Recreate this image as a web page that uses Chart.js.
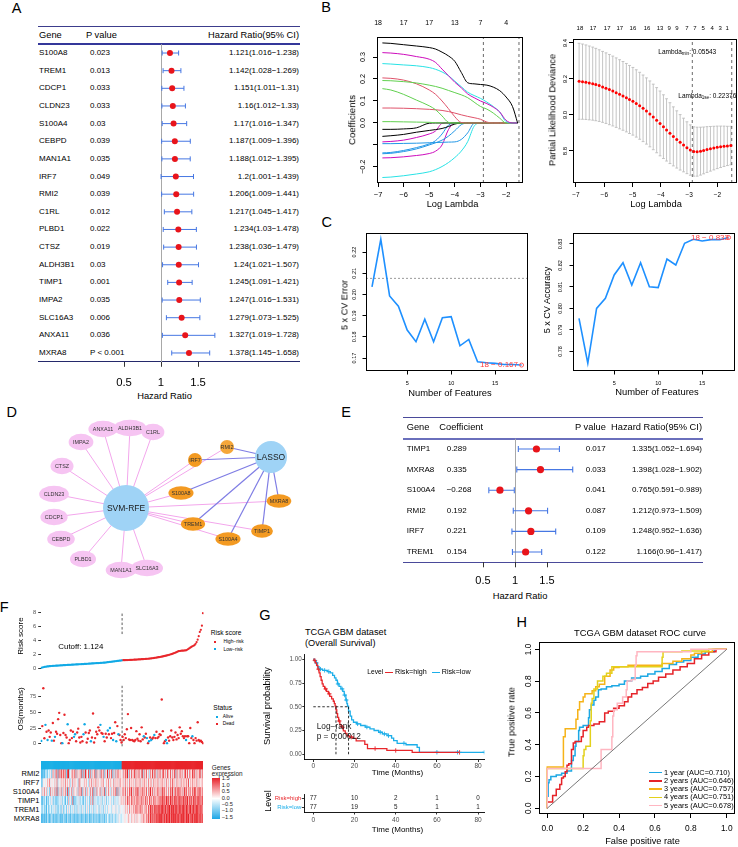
<!DOCTYPE html>
<html><head><meta charset="utf-8">
<script src="https://cdn.jsdelivr.net/npm/chart.js@4.4.1/dist/chart.umd.min.js"></script>
<style>
html,body{margin:0;padding:0;background:#fff;}
#root{position:relative;width:738px;height:847px;overflow:hidden;background:#fff;}
#root canvas{position:absolute;}
.t{position:absolute;white-space:nowrap;line-height:1;font-family:'Liberation Sans',Arial,Helvetica,sans-serif;color:#000;}
.t sub{font-size:70%;vertical-align:-0.25em;line-height:0;}
.r{position:absolute;}
</style></head><body><div id="root"></div>
<script>
// ================= DATA =================
// Panel A: univariate Cox
const genesA = ['S100A8','TREM1','CDCP1','CLDN23','S100A4','CEBPD','MAN1A1','IRF7','RMI2','C1RL','PLBD1','CTSZ','ALDH3B1','TIMP1','IMPA2','SLC16A3','ANXA11','MXRA8'];
const pA = ['0.023','0.013','0.033','0.033','0.03','0.039','0.035','0.049','0.039','0.012','0.022','0.019','0.03','0.001','0.035','0.006','0.036','P < 0.001'];
const hrA = [1.121,1.142,1.151,1.16,1.17,1.187,1.188,1.2,1.206,1.217,1.234,1.238,1.24,1.245,1.247,1.279,1.327,1.378];
const loA = [1.016,1.028,1.011,1.012,1.016,1.009,1.012,1.001,1.009,1.045,1.03,1.036,1.021,1.091,1.016,1.073,1.019,1.145];
const hiA = [1.238,1.269,1.31,1.33,1.347,1.396,1.395,1.439,1.441,1.417,1.478,1.479,1.507,1.421,1.531,1.525,1.728,1.658];
const hrTicks = [0.5,1,1.5];

// Panel B left: LASSO coefficient paths
const lamGridB = [-6.83,-6.5,-6,-5.5,-5,-4.75,-4.5,-4.25,-4,-3.75,-3.5,-3.25,-3,-2.75,-2.5,-2.25,-2,-1.75,-1.55];
const cBlack1 = [0.364,0.362,0.356,0.350,0.343,0.336,0.322,0.305,0.280,0.230,0.183,0.178,0.175,0.172,0.163,0.147,0.118,0.075,0];
const cMag1   = [0.320,0.318,0.312,0.302,0.290,0.275,0.245,0.215,0.185,0.160,0.132,0.115,0.100,0.088,0.072,0.050,0.012,0,0];
const cCyan1  = [0.270,0.268,0.264,0.260,0.252,0.244,0.232,0.215,0.190,0.165,0.140,0.125,0.112,0.095,0.075,0.050,0.006,0,0];
const cGreen1 = [0.193,0.192,0.188,0.182,0.172,0.166,0.158,0.148,0.138,0.128,0.115,0.095,0.075,0.063,0.045,0.022,0,0,0];
const cRed1   = [0.205,0.203,0.195,0.178,0.150,0.130,0.100,0.065,0.028,0.002,0,0,0,0,0,0,0,0,0];
const cGreen2 = [0.156,0.150,0.130,0.104,0.078,0.060,0.032,0.003,0,0,0,0,0,0,0,0,0,0,0];
const cRed2   = [0.068,0.068,0.067,0.065,0.062,0.060,0.057,0.052,0.045,0.037,0.030,0.024,0.017,0.004,0,0,0,0,0];
const cGreen3 = [0.006,0.006,0.005,0.004,0.003,0.001,0,0,0,0,0,0,0,0,0,0,0,0,0];
const cBlack2 = [-0.029,-0.029,-0.027,-0.022,-0.001,0,0,0,0,0,0,0,0,0,0,0,0,0,0];
const cBlack3 = [-0.061,-0.058,-0.052,-0.042,-0.034,-0.030,-0.025,-0.016,-0.005,0,0,0,0,0,0,0,0,0,0];
const cMag2   = [-0.086,-0.084,-0.078,-0.066,-0.050,-0.036,-0.002,0,0,0,0,0,0,0,0,0,0,0,0];
const cBlue1  = [-0.094,-0.094,-0.093,-0.092,-0.090,-0.089,-0.088,-0.087,-0.086,-0.075,-0.045,-0.002,0,0,0,0,0,0,0];
const cBlue2  = [-0.136,-0.134,-0.125,-0.112,-0.095,-0.080,-0.050,-0.010,0,0,0,0,0,0,0,0,0,0,0];
const cBlue3  = [-0.140,-0.138,-0.130,-0.118,-0.100,-0.090,-0.078,-0.060,-0.035,-0.008,0,0,0,0,0,0,0,0,0];
const cMag3   = [-0.159,-0.158,-0.154,-0.148,-0.139,-0.128,-0.100,-0.030,0,0,0,0,0,0,0,0,0,0,0];
const cCyan2  = [-0.248,-0.246,-0.240,-0.232,-0.222,-0.212,-0.198,-0.180,-0.157,-0.128,-0.085,-0.015,0,0,0,0,0,0,0];
const topPosB1 = [-7,-6,-5,-4,-3,-2];
const dfB1 = [18,17,17,13,7,4];
const lamMinLog = -2.89, lam1seLog = -1.497;

// Panel B right: CV partial likelihood deviance
const lambdaB2 = [-6.89,-6.77,-6.65,-6.53,-6.41,-6.30,-6.18,-6.06,-5.94,-5.82,-5.70,-5.58,-5.46,-5.34,-5.22,-5.11,-4.99,-4.87,-4.75,-4.63,-4.51,-4.39,-4.27,-4.15,-4.03,-3.91,-3.80,-3.68,-3.56,-3.44,-3.32,-3.20,-3.08,-2.96,-2.84,-2.72,-2.60,-2.49,-2.37,-2.25,-2.13,-2.01,-1.89,-1.77,-1.65,-1.53];
const cvmB2 = [9.187,9.185,9.182,9.178,9.174,9.169,9.163,9.156,9.149,9.141,9.133,9.124,9.115,9.106,9.096,9.086,9.076,9.064,9.051,9.037,9.022,9.006,8.989,8.971,8.953,8.935,8.917,8.899,8.881,8.864,8.848,8.833,8.818,8.805,8.797,8.796,8.799,8.803,8.808,8.812,8.816,8.820,8.823,8.826,8.828,8.830];
const cvsdB2 = [0.211,0.209,0.207,0.205,0.203,0.201,0.199,0.197,0.196,0.195,0.194,0.193,0.192,0.191,0.190,0.189,0.188,0.187,0.186,0.185,0.184,0.183,0.182,0.181,0.180,0.177,0.173,0.169,0.164,0.159,0.154,0.149,0.144,0.140,0.137,0.136,0.133,0.130,0.127,0.124,0.121,0.118,0.115,0.112,0.109,0.107];
const topPosB2 = [-6.86,-6.40,-5.90,-5.45,-4.99,-4.49,-4.03,-3.71,-3.43,-3.08,-2.80,-2.51,-2.19,-1.91,-1.66];
const dfB2 = [18,17,17,17,16,16,13,9,9,7,7,5,4,3,1];

// Panel C: SVM-RFE
const featN = [1,2,3,4,5,6,7,8,9,10,11,12,13,14,15,16,17,18];
const cvErr = [0.2036,0.2260,0.1993,0.1945,0.1832,0.1777,0.1883,0.1777,0.1890,0.1895,0.1758,0.1788,0.1683,0.1678,0.1675,0.1670,0.1670,0.1667];
const cvAcc = [0.7954,0.7745,0.8000,0.8047,0.8156,0.8213,0.8109,0.8213,0.8101,0.8097,0.8230,0.8202,0.8303,0.8322,0.8314,0.8320,0.8320,0.8330];
const cvErrRef = 0.2076;

// Panel D: network (layout coordinates)
const nodeNames = ['SVM-RFE','LASSO','ANXA11','ALDH3B1','C1RL','IMPA2','CTSZ','CLDN23','CDCP1','CEBPD','PLBD1','MAN1A1','SLC16A3','RMI2','IRF7','S100A8','MXRA8','TREM1','TIMP1','S100A4'];
const nodeX = [126,271,103,130,153,81,62,54,54,61,83,121,147,227,195,181,279,193,262,228];
const nodeY = [508,457,429,428,432,442,466,494,517,539,559,570,568,447,460,493,501,524,531,539];
const nodeGroup = ['hub','hub','svm','svm','svm','svm','svm','svm','svm','svm','svm','svm','svm','both','both','both','both','both','both','both'];
const svmTargets = ['ANXA11','ALDH3B1','C1RL','IMPA2','CTSZ','CLDN23','CDCP1','CEBPD','PLBD1','MAN1A1','SLC16A3','RMI2','IRF7','S100A8','MXRA8','TREM1','TIMP1','S100A4'];
const lassoTargets = ['RMI2','IRF7','S100A8','MXRA8','TREM1','TIMP1','S100A4'];

// Panel E: multivariate Cox
const genesE = ['TIMP1','MXRA8','S100A4','RMI2','IRF7','TREM1'];
const coefE = [0.289,0.335,-0.268,0.192,0.221,0.154];
const pE = ['0.017','0.033','0.041','0.087','0.109','0.122'];
const hrE = [1.335,1.398,0.765,1.212,1.248,1.166];
const loE = [1.052,1.028,0.591,0.973,0.952,0.96];
const hiE = [1.694,1.902,0.989,1.509,1.636,1.417];

// Panel F: risk score, survival status, heatmap
const riskCutoff = 1.124;
const riskLow = [0.05,0.10,0.14,0.18,0.21,0.23,0.25,0.27,0.29,0.30,0.32,0.33,0.34,0.35,0.36,0.37,0.38,0.39,0.40,0.41,0.42,0.43,0.44,0.45,0.46,0.47,0.48,0.48,0.49,0.50,0.51,0.52,0.53,0.54,0.55,0.56,0.57,0.57,0.58,0.59,0.60,0.61,0.62,0.63,0.64,0.65,0.66,0.67,0.68,0.69,0.70,0.71,0.72,0.73,0.74,0.75,0.76,0.77,0.78,0.79,0.80,0.82,0.84,0.86,0.88,0.90,0.92,0.94,0.96,0.98,1.00,1.02,1.04,1.06,1.08,1.10,1.12];
const riskHigh = [1.14,1.15,1.15,1.16,1.17,1.17,1.18,1.19,1.19,1.20,1.21,1.22,1.23,1.24,1.25,1.26,1.27,1.28,1.29,1.30,1.31,1.32,1.33,1.34,1.36,1.37,1.39,1.41,1.43,1.45,1.47,1.50,1.53,1.55,1.58,1.60,1.63,1.66,1.69,1.72,1.76,1.80,1.84,1.88,1.92,1.97,2.02,2.07,2.12,2.18,2.24,2.30,2.38,2.44,2.47,2.49,2.51,2.52,2.53,2.55,2.56,2.65,2.75,2.85,2.95,3.05,3.15,3.22,3.30,3.50,3.75,4.10,4.60,5.20,5.50,6.10,7.90];
const osLow = [4.6,28,88,8.7,30,19,6,21,11,18,5,33,5,11,19,16,39,49,14,1,1,17,46,14,10,31,1,6,21,9,19,11,15,4,18,24,10,2,11,4,15,31,18,2,8,17,21,4,10,48,2,9,19,15,26,21,30,17,16,11,4,16,10,21,15,25,9,16,6,17,34,4,28,15,14,6,2];
const stLow = "ADDDADADDD"+"ADDADDDDDD"+"ADDDDADDDD"+"DAADDDDDDD"+"AADDDDDADD"+"DDDDDDADDA"+"DDDADADDAD"+"DADADDD";
const osHigh = [11,6,15,9,23,47,7,6,25,6,5,4,6,20,8,5,15,4,26,7,12,10,16,9,1,4,10,6,8,10,14,9,19,9,11,15,14,70,20,1,4,6,1,10,5,12,21,10,6,11,18,7,14,9,26,16,20,12,9,12,6,12,12,1,25,9,12,6,1,9,5,34,6,4,5,3,1];
const stHigh = "DDDDDDDDDD"+"DDDDDDDDDD"+"ADDADADADD"+"ADDDDDDDDD"+"DAADDDDDDD"+"DDDDDDDDDD"+"ADDDDDADDD"+"DDDDDDD";
const cutSegF = [4.9, 8.04];
// heatmap levels 0..9 -> -1.5..1.5 (low-risk 77 | high-risk 77)
const hmGenes = ['RMI2','IRF7','S100A4','TIMP1','TREM1','MXRA8'];
const hmRMI2 = ['11213324352','66377284958','67289346758','37465827396','48273658274','63857264937','58263748565','47586937485','69475846937','58463759486','37584695748','65847593764','85746958476','59684756947'].join('');
const hmIRF7 = ['22545465745','54647354656','47564635746','55376454656','43657465746','54657446574','65474656475','56475647565','64756574657','56475664756','57465756475','64758564756','47566575846','57565746556'].join('');
const hmS100A4 = ['36474635274','64738264736','57382647365','46375826473','65374826374','57364826475','36475827364','67584758694','75869475867','58476958475','68574968574','75869478596','85749685767','58697586957'].join('');
const hmTIMP1 = ['21324132435','32413243524','31426352713','24352431425','34263725342','43524352434','53425343546','56475867586','67586758675','86758675867','57686978697','86978697869','78697879687','86978697868'].join('');
const hmTREM1 = ['32423142342','43524143252','34253524352','42534253425','35243524354','25342534354','43545354354','45465647565','75867586756','67586978697','87978987978','89798979878','97898798789','78978987887'].join('');
const hmMXRA8 = ['11212132123','21312231213','22132213221','31223122312','23122313223','12323132432','33243243543','44554565465','56465546576','57686978787','97989879798','89798989798','79898798978','89798987978'].join('');
const hmLegend = ['1.5','1.0','0.5','0.0','\u22120.5','\u22121.0','\u22121.5'];

// Panel G: Kaplan-Meier
const kmHighT = [0,0.4,1.0,1.6,2.2,2.8,3.3,3.8,4.3,4.8,5.5,6.4,7.3,8.0,8.9,9.7,10.2,10.6,11.0,11.4,11.8,12.3,12.9,13.5,14.6,15.5,16.3,17.5,19.4,20.8,25.0,26.3,35.7,48.0,71.0];
const kmHighS = [1.0,0.987,0.961,0.935,0.896,0.857,0.818,0.779,0.740,0.714,0.688,0.662,0.636,0.610,0.584,0.558,0.532,0.506,0.467,0.428,0.389,0.350,0.311,0.285,0.246,0.220,0.194,0.181,0.168,0.142,0.104,0.060,0.040,0.020,0.020];
const kmLowT = [0,0.5,1.2,2.0,2.8,4.5,6.8,8.2,9.4,10.3,11.0,11.7,12.5,13.4,14.3,15.0,15.8,16.3,16.6,17.1,17.9,18.6,19.5,21.0,23.0,25.2,27.5,29.5,31.7,33.5,35.8,38.0,39.0,40.7,45.0,50.4,51.5,83.0];
const kmLowS = [1.0,0.987,0.961,0.922,0.896,0.883,0.870,0.857,0.831,0.805,0.779,0.740,0.714,0.688,0.662,0.623,0.571,0.532,0.506,0.454,0.402,0.363,0.337,0.320,0.303,0.286,0.268,0.250,0.232,0.214,0.196,0.170,0.143,0.115,0.100,0.073,0.021,0.021];
const censHighT = [0.8,2.5,6.0,7.8,12.6,14.2,18.5,30,40,71];
const censLowT = [1.5,3.5,5.5,7.5,12.0,14.0,15.2,16.0,21.5,26,32.5,34.5,36.5,44,60,70,83];
const riskTimes = [0,20,40,60,80];
const nRiskHigh = [77,10,2,1,0];
const nRiskLow = [77,19,5,1,1];

// Panel H: time-dependent ROC
const roc1X = [0,0.005,0.01,0.02,0.05,0.08,0.11,0.135,0.145,0.155,0.16,0.175,0.18,0.2,0.23,0.235,0.245,0.26,0.27,0.285,0.30,0.33,0.36,0.40,0.43,0.47,0.52,0.56,0.60,0.64,0.68,0.72,0.76,0.80,0.84,0.88,0.93,1];
const roc1Y = [0,0.075,0.16,0.18,0.20,0.21,0.22,0.235,0.30,0.33,0.39,0.42,0.49,0.51,0.52,0.57,0.62,0.65,0.68,0.70,0.745,0.75,0.765,0.77,0.78,0.80,0.82,0.83,0.845,0.86,0.88,0.905,0.92,0.93,0.95,0.97,0.985,1];
const roc2X = [0,0,0.03,0.03,0.05,0.05,0.07,0.08,0.09,0.1,0.11,0.12,0.135,0.145,0.155,0.19,0.2,0.22,0.23,0.26,0.29,0.32,0.34,0.37,0.40,0.43,0.45,0.47,0.50,0.53,0.56,0.59,0.62,0.66,0.70,0.74,0.78,0.82,0.86,0.90,0.94,1];
const roc2Y = [0,0.04,0.04,0.08,0.08,0.11,0.12,0.15,0.19,0.2,0.23,0.27,0.28,0.37,0.41,0.42,0.45,0.49,0.51,0.52,0.53,0.545,0.6,0.61,0.63,0.645,0.67,0.70,0.72,0.745,0.76,0.785,0.80,0.825,0.845,0.87,0.89,0.91,0.94,0.965,0.985,1];
const roc3X = [0,0,0.09,0.1,0.105,0.16,0.17,0.18,0.2,0.21,0.25,0.27,0.29,0.32,0.35,0.37,0.40,0.45,0.52,0.58,0.64,0.70,0.75,0.80,0.82,0.86,0.92,1];
const roc3Y = [0,0.26,0.26,0.45,0.5,0.5,0.56,0.62,0.67,0.70,0.72,0.74,0.765,0.78,0.83,0.87,0.885,0.89,0.90,0.90,0.90,0.91,0.925,0.94,0.965,0.975,0.985,1];
const roc4X = [0,0.005,0.2,0.205,0.215,0.24,0.245,0.25,0.26,0.28,0.31,0.33,0.36,0.37,0.45,0.55,0.64,0.645,0.655,0.75,0.9,1];
const roc4Y = [0,0.25,0.25,0.33,0.37,0.39,0.55,0.66,0.69,0.75,0.80,0.83,0.85,0.89,0.89,0.89,0.89,0.95,0.985,0.985,0.99,1];
const roc5X = [0,0,0.30,0.305,0.36,0.365,0.37,0.39,0.42,0.44,0.445,0.47,0.49,0.495,0.50,0.51,0.6,0.8,1];
const roc5Y = [0,0.25,0.25,0.37,0.37,0.45,0.58,0.62,0.66,0.70,0.745,0.80,0.81,0.90,0.96,0.985,0.985,0.985,1];
const rocLabels = ['1 year (AUC=0.710)','2 years (AUC=0.646)','3 years (AUC=0.757)','4 years (AUC=0.751)','5 years (AUC=0.678)'];
const unitTicks = [0,0.2,0.4,0.6,0.8,1];

// ================= STYLE / HELPERS =================
const FONT = "'Liberation Sans', Arial, Helvetica, sans-serif";
Chart.defaults.font.family = FONT;
Chart.defaults.color = '#000';
Chart.defaults.font.size = 8;
const root = document.getElementById('root');
const MINUS = '\u2212';
const RED = '#E8262B', BLUE = '#1CAEE9';

function T(x, y, html, size, o = {}) {
  const d = document.createElement('div');
  d.className = 't';
  d.style.left = x + 'px'; d.style.top = y + 'px'; d.style.fontSize = size + 'px';
  if (o.color) d.style.color = o.color;
  const tx = o.rot ? '-50%' : (o.a === 'c' ? '-50%' : o.a === 'r' ? '-100%' : '0');
  d.style.transform = `translate(${tx},-50%)` + (o.rot ? ' rotate(-90deg)' : '');
  d.innerHTML = html;
  root.appendChild(d);
}
function R(x1, y1, w, h, color) {
  const d = document.createElement('div');
  d.className = 'r';
  Object.assign(d.style, {left: x1 + 'px', top: y1 + 'px', width: w + 'px', height: h + 'px', background: color});
  root.appendChild(d);
}
function mk(left, top, w, h, type, datasets, options, plugins = [], labels) {
  const cv = document.createElement('canvas');
  cv.width = w; cv.height = h;
  Object.assign(cv.style, {left: left + 'px', top: top + 'px', width: w + 'px', height: h + 'px'});
  root.appendChild(cv);
  options.responsive = false; options.animation = false; options.devicePixelRatio = 1; options.events = [];
  options.plugins = Object.assign({legend: {display: false}, tooltip: {enabled: false}}, options.plugins || {});
  const data = {datasets};
  if (labels) data.labels = labels;
  return new Chart(cv, {type, data, options, plugins});
}
const lay = (l, r, t, b) => ({padding: {left: l, right: r, top: t, bottom: b}, autoPadding: false});
const rnum = v => String(v).replace('-', MINUS);
function ax(o) {
  return {
    type: 'linear', axis: o.axis, position: o.pos, min: o.min, max: o.max,
    afterBuildTicks: s => { s.ticks = o.ticks.map(v => ({value: v})); },
    afterFit: s => { if (o.pos === 'left' || o.pos === 'right') s.width = o.size; else s.height = o.size; },
    ticks: {display: o.labels !== false, autoSkip: false, maxRotation: 0, minRotation: 0,
      font: {size: o.fs || 8}, color: o.color || '#000', padding: o.pad ?? 2, callback: o.cb || rnum},
    grid: {display: true, drawOnChartArea: false, drawTicks: true, tickLength: o.tl ?? 4,
      tickColor: o.tickColor || '#000', color: '#000', lineWidth: o.tw || 1},
    border: {display: !!o.border, color: '#000', width: o.bw || 1}
  };
}
// plugins
const rotY = { id: 'rotY', afterDraw(chart, a, o) {
  if (!o || !o.fmt) return;
  const s = chart.scales.y, c = chart.ctx;
  c.save(); c.font = `${o.fs}px ${FONT}`; c.fillStyle = '#000'; c.textAlign = 'center'; c.textBaseline = 'middle';
  s.ticks.forEach(t => { const lab = o.fmt(t.value); if (!lab) return;
    c.save(); c.translate(s.right - o.off, s.getPixelForValue(t.value)); c.rotate(-Math.PI / 2); c.fillText(lab, 0, 0); c.restore(); });
  c.restore(); } };
const boxP = { id: 'boxP', afterDraw(chart, a, o) {
  if (!o || !o.on) return;
  const {left, top, right, bottom} = chart.chartArea, c = chart.ctx;
  c.save(); c.strokeStyle = '#000'; c.lineWidth = 1;
  c.strokeRect(Math.round(left) + 0.5, Math.round(top) + 0.5, Math.round(right - left) - 1, Math.round(bottom - top) - 1);
  c.restore(); } };
const errP = { id: 'errP', beforeDatasetsDraw(chart, a, o) {
  if (!o || !o.lo) return;
  const xs = chart.scales.x, ys = chart.scales.y, c = chart.ctx;
  c.save(); c.strokeStyle = o.color; c.lineWidth = o.lw || 1;
  o.lo.forEach((lo, i) => {
    const hi = o.hi[i], p = o.pos ? o.pos[i] : i;
    c.beginPath();
    if (o.dir === 'h') {
      const y = ys.getPixelForValue(p), x1 = xs.getPixelForValue(lo), x2 = xs.getPixelForValue(hi);
      c.moveTo(x1, y); c.lineTo(x2, y);
      c.moveTo(x1, y - o.cap); c.lineTo(x1, y + o.cap); c.moveTo(x2, y - o.cap); c.lineTo(x2, y + o.cap);
    } else {
      const x = xs.getPixelForValue(p), y1 = ys.getPixelForValue(lo), y2 = ys.getPixelForValue(hi);
      c.moveTo(x, y1); c.lineTo(x, y2);
      c.moveTo(x - o.cap, y1); c.lineTo(x + o.cap, y1); c.moveTo(x - o.cap, y2); c.lineTo(x + o.cap, y2);
    }
    c.stroke();
  });
  c.restore(); } };
const numP = { id: 'numP', afterDatasetsDraw(chart, a, o) {
  if (!o || !o.rows) return;
  const xs = chart.scales.x, ys = chart.scales.y, c = chart.ctx;
  c.save(); c.font = `${o.fs}px ${FONT}`; c.fillStyle = '#222'; c.textAlign = 'center'; c.textBaseline = 'middle';
  o.rows.forEach((row, ri) => row.forEach((n, i) => c.fillText(String(n), xs.getPixelForValue(o.xs[i]), ys.getPixelForValue(ri))));
  c.restore(); } };
const nodeStyle = {
  hub: {fill: '#9FD3F6', fs: 8.5, text: '#1a1a1a'},
  svm: {fill: '#F6C4F2', fs: 5.4, ry: 8.3, padX: 4.5, text: '#333'},
  both: {fill: '#F39A22', fs: 5.4, ry: 6.8, padX: 3, text: '#333'}
};
const hubR = {'SVM-RFE': 23, 'LASSO': 16};
const smallNodes = ['RMI2', 'IRF7'];
const nodeP = { id: 'nodeP', afterDatasetsDraw(chart, a, o) {
  if (!o || !o.on) return;
  const xs = chart.scales.x, ys = chart.scales.y, c = chart.ctx;
  nodeNames.forEach((nm, i) => {
    const st = nodeStyle[nodeGroup[i]];
    const px = xs.getPixelForValue(nodeX[i]), py = ys.getPixelForValue(nodeY[i]);
    c.font = `${st.fs}px ${FONT}`;
    const tw = c.measureText(nm).width;
    let rx, ry;
    if (hubR[nm]) { rx = ry = hubR[nm]; }
    else if (smallNodes.includes(nm)) { rx = ry = 7; }
    else { ry = st.ry; rx = Math.max(ry, tw / 2 + st.padX); }
    c.beginPath(); c.ellipse(px, py, rx, ry, 0, 0, Math.PI * 2);
    c.fillStyle = nm === 'RMI2' ? '#F5A73A' : st.fill; c.fill();
    c.fillStyle = st.text; c.textAlign = 'center'; c.textBaseline = 'middle';
    c.fillText(nm, px, py + 0.3);
  }); } };

// ================= PANEL LETTERS =================
[['A',16.7,8.3],['B',326,7.2],['C',326.7,222],['D',11.7,412],['E',346,412],['F',4.3,606.7],['G',265,615.3],['H',521.7,621.7]]
  .forEach(([l, x, y]) => T(x, y, l, 14.5, {a: 'c'}));

// ================= PANEL A =================
R(38.3, 26, 261.7, 1.4, '#3C3D8C');
R(38.3, 43.4, 261.7, 1.2, '#34379A');
R(38.3, 360.8, 261.7, 1.3, '#24296B');
T(39, 36, 'Gene', 9.3); T(86, 36, 'P value', 9.3); T(299, 36, 'Hazard Ratio(95% CI)', 9.3, {a: 'r'});
genesA.forEach((g, i) => {
  const y = 53 + i * 17.644;
  T(39, y, g, 8); T(90, y, pA[i], 8);
  T(299, y, `${hrA[i]}(${loA[i]}${MINUS}${hiA[i]})`, 8, {a: 'r'});
});
T(164.5, 396, 'Hazard Ratio', 9.4, {a: 'c'});
{
  const xA = ax({min: 0, max: 2, ticks: hrTicks, pos: 'bottom', size: 43.2, fs: 11.3, pad: 9.4, tl: 5, tickColor: '#333', cb: v => String(v)});
  xA.grid.drawOnChartArea = true;
  xA.grid.color = c => (c.tick && c.tick.value === 1) ? '#A8A8A8' : 'rgba(0,0,0,0)';
  mk(38, 20, 267, 385, 'scatter',
    [{data: hrA.map((v, i) => ({x: v, y: i})), pointRadius: 3, backgroundColor: '#E8141B', borderWidth: 0}],
    {layout: lay(49, 70, 24.2, 0),
     scales: {x: xA, y: {type: 'linear', min: -0.5, max: 17.5, reverse: true, display: false}},
     plugins: {errP: {lo: loA, hi: hiA, dir: 'h', color: '#4677E3', cap: 2.5, lw: 1}}}, [errP]);
}

// ================= PANEL B (left) =================
{
  const paths = [cBlack1, cMag1, cCyan1, cGreen1, cRed1, cGreen2, cRed2, cGreen3, cBlack2, cBlack3, cMag2, cBlue1, cBlue2, cBlue3, cMag3, cCyan2];
  const cols = ['#000000','#CD0BBC','#28E2E5','#61D04F','#DF536B','#61D04F','#DF536B','#61D04F','#000000','#000000','#CD0BBC','#2297E6','#2297E6','#2297E6','#CD0BBC','#28E2E5'];
  const yMin = -0.273, yMax = 0.391;
  const ds = paths.map((p, k) => ({type: 'line', data: lamGridB.map((x, i) => ({x, y: p[i]})), borderColor: cols[k], borderWidth: 1,
    pointRadius: 0, cubicInterpolationMode: 'monotone'}));
  [lamMinLog, lam1seLog].forEach(v => ds.push({type: 'line', data: [{x: v, y: yMin}, {x: v, y: yMax}], borderColor: '#444', borderWidth: 0.8, borderDash: [3, 3], pointRadius: 0}));
  mk(345, 14, 185, 196, 'scatter', ds, {
    layout: lay(0, 7, 0, 0),
    scales: {
      x: ax({min: -7.04, max: -1.34, ticks: topPosB1, pos: 'bottom', size: 27, fs: 7.5, pad: 3.5, tl: 4}),
      x2: ax({axis: 'x', min: -7.04, max: -1.34, ticks: topPosB1, pos: 'top', size: 23, fs: 7, pad: 9.8, tl: 0, cb: v => String(dfB1[topPosB1.indexOf(v)])}),
      y: ax({min: yMin, max: yMax, ticks: [-0.2, -0.1, 0, 0.1, 0.2, 0.3], pos: 'left', size: 32, labels: false, tl: 4})
    },
    plugins: {rotY: {fmt: v => Math.abs(v + 0.1) < 1e-9 ? '' : v.toFixed(1).replace('-', MINUS), off: 13.5, fs: 7.2}, boxP: {on: true}}
  }, [rotY, boxP]);
  T(352.3, 120, 'Coefficients', 9.6, {rot: true});
  T(452.5, 204.5, 'Log Lambda', 9.3, {a: 'c'});
}

// ================= PANEL B (right) =================
{
  const yMin = 8.622, yMax = 9.422;
  const ds = [{type: 'scatter', data: lambdaB2.map((x, i) => ({x, y: cvmB2[i]})), pointRadius: 1.5, backgroundColor: '#FF0000', borderWidth: 0}];
  [lamMinLog, lam1seLog].forEach(v => ds.push({type: 'line', data: [{x: v, y: yMin}, {x: v, y: yMax}], borderColor: '#444', borderWidth: 0.8, borderDash: [3, 3], pointRadius: 0}));
  mk(540, 14, 198, 196, 'scatter', ds, {
    layout: lay(0, 1, 0, 0),
    scales: {
      x: ax({min: -7.106, max: -1.311, ticks: topPosB1, pos: 'bottom', size: 27, fs: 6.5, pad: 4.1, tl: 4}),
      x2: ax({axis: 'x', min: -7.106, max: -1.311, ticks: topPosB2, pos: 'top', size: 25, fs: 6, pad: 7.4, tl: 0, cb: v => String(dfB2[topPosB2.indexOf(v)])}),
      y: ax({min: yMin, max: yMax, ticks: [8.8, 9.0, 9.2, 9.4], pos: 'left', size: 33, labels: false, tl: 4})
    },
    plugins: {rotY: {fmt: v => v.toFixed(1), off: 7.5, fs: 6}, boxP: {on: true},
      errP: {lo: cvmB2.map((m, i) => m - cvsdB2[i]), hi: cvmB2.map((m, i) => m + cvsdB2[i]), pos: lambdaB2, dir: 'v', color: '#BDBDBD', cap: 1.4, lw: 0.9}}
  }, [rotY, boxP, errP]);
  T(553.3, 110, 'Partial Likelihood Deviance', 9.3, {rot: true});
  T(656, 204.5, 'Log Lambda', 9.3, {a: 'c'});
  T(658.3, 51.7, 'Lambda<sub>min</sub>: 0.05543', 6.5);
  T(678.3, 95.7, 'Lambda<sub>1se</sub>: 0.22376', 6.5);
}

// ================= PANEL C =================
function cvChart(left, vals, yMin, yMax, yt, off) {
  const last = vals.length - 1;
  const ds = [{type: 'line', data: featN.map((n, i) => ({x: n, y: vals[i]})), borderColor: '#1E90FF', borderWidth: 1.6,
    pointRadius: featN.map((n, i) => i === last ? 2 : 0), pointBorderColor: '#FF5A5A', pointBackgroundColor: 'rgba(0,0,0,0)', pointBorderWidth: 1}];
  return {ds, opts: {
    layout: lay(0, left === 335 ? 7 : 3, 8, 0),
    scales: {
      x: ax({min: 0.318, max: 18.73, ticks: [5, 10, 15], pos: 'bottom', size: 34, fs: 5.5, pad: 5.5, tl: 3.5}),
      y: ax({min: yMin, max: yMax, ticks: yt, pos: 'left', size: 31, labels: false, tl: 3.5})
    },
    plugins: {rotY: {fmt: v => v.toFixed(2), off: off, fs: 5.5}, boxP: {on: true}}
  }};
}
{
  const a = cvChart(335, cvErr, 0.1639, 0.229, [0.17, 0.18, 0.19, 0.20, 0.21, 0.22], 12);
  a.ds.push({type: 'line', data: [{x: 0.318, y: cvErrRef}, {x: 18.73, y: cvErrRef}], borderColor: '#9A9A9A', borderWidth: 1, borderDash: [2, 2], pointRadius: 0});
  mk(335, 225, 200, 180, 'scatter', a.ds, a.opts, [rotY, boxP]);
  const b = cvChart(542, cvAcc, 0.7709, 0.8351, [0.78, 0.79, 0.80, 0.81, 0.82, 0.83], 13);
  mk(542, 225, 196, 180, 'scatter', b.ds, b.opts, [rotY, boxP]);
  T(345, 305, '5 x CV Error', 9.1, {rot: true});
  T(450, 393.3, 'Number of Features', 9.4, {a: 'c'});
  T(518, 365, `${featN[featN.length - 1]} ${MINUS} ${cvErr[cvErr.length - 1].toFixed(3)}`, 8, {a: 'r', color: '#FF3B3B'});
  T(548.3, 300, '5 x CV Accuracy', 9.1, {rot: true});
  T(657, 392, 'Number of Features', 9.4, {a: 'c'});
  T(729, 238.3, `${featN[featN.length - 1]} ${MINUS} ${cvAcc[cvAcc.length - 1].toFixed(3)}`, 8, {a: 'r', color: '#FF3B3B'});
}

// ================= PANEL D =================
{
  const ds = [];
  const hubPt = h => ({x: nodeX[nodeNames.indexOf(h)], y: nodeY[nodeNames.indexOf(h)]});
  lassoTargets.forEach(t => { const j = nodeNames.indexOf(t);
    ds.push({type: 'line', data: [hubPt('LASSO'), {x: nodeX[j], y: nodeY[j]}], borderColor: '#7F7DE4', borderWidth: 1.2, pointRadius: 0}); });
  svmTargets.forEach(t => { const j = nodeNames.indexOf(t);
    ds.push({type: 'line', data: [hubPt('SVM-RFE'), {x: nodeX[j], y: nodeY[j]}], borderColor: '#F3A6EC', borderWidth: 1, pointRadius: 0}); });
  mk(0, 405, 300, 190, 'scatter', ds, {
    layout: lay(0, 0, 0, 0),
    scales: {x: {type: 'linear', min: 0, max: 300, display: false}, y: {type: 'linear', min: 405, max: 595, reverse: true, display: false}},
    plugins: {nodeP: {on: true}}
  }, [nodeP]);
}

// ================= PANEL E =================
R(403.3, 417, 300, 1.4, '#4A4A9A');
R(403.3, 438.4, 300, 1.2, '#6A6FBC');
R(403.3, 561.6, 300, 1.4, '#4A4A9A');
T(406.7, 428, 'Gene', 9.3); T(439.3, 428, 'Coefficient', 9.3); T(575, 428, 'P value', 9.3); T(702, 428, 'Hazard Ratio(95% CI)', 9.3, {a: 'r'});
genesE.forEach((g, i) => {
  const y = 449 + i * 20.6;
  T(406.7, y, g, 8); T(446.7, y, rnum(coefE[i]), 8); T(585.7, y, pE[i], 8);
  T(702, y, `${hrE[i]}(${loE[i]}${MINUS}${hiE[i]})`, 8, {a: 'r'});
});
T(520, 596, 'Hazard Ratio', 9.4, {a: 'c'});
{
  const xE = ax({min: 0, max: 2, ticks: hrTicks, pos: 'bottom', size: 37.7, fs: 11, pad: 7, tl: 5, tickColor: '#333', cb: v => String(v)});
  xE.grid.drawOnChartArea = true;
  xE.grid.color = c => (c.tick && c.tick.value === 1) ? '#A8A8A8' : 'rgba(0,0,0,0)';
  mk(403, 410, 302, 190, 'scatter',
    [{data: hrE.map((v, i) => ({x: v, y: i})), pointRadius: 3.6, backgroundColor: '#E8141B', borderWidth: 0}],
    {layout: lay(48, 126, 28.7, 0),
     scales: {x: xE, y: {type: 'linear', min: -0.5, max: 5.5, reverse: true, display: false}},
     plugins: {errP: {lo: loE, hi: hiE, dir: 'h', color: '#4677E3', cap: 3, lw: 1.1}}}, [errP]);
}

// ================= PANEL F =================
{
  const nL = riskLow.length, nP = riskLow.length + riskHigh.length;
  const mid = nL + 0.5;
  const yAxF = (min, max, ticks, size) => ax({min, max, ticks, pos: 'left', size, fs: 5.7, pad: 2, tl: 2.5, color: '#4D4D4D', tickColor: '#333'});
  // risk score
  mk(20, 605, 190, 71, 'scatter', [
    {data: riskLow.map((v, i) => ({x: i + 1, y: v})), pointRadius: 1.1, backgroundColor: '#10A9E5', borderWidth: 0},
    {data: riskHigh.map((v, j) => ({x: nL + 1 + j, y: v})), pointRadius: 1.1, backgroundColor: RED, borderWidth: 0},
    {type: 'line', data: [{x: mid, y: cutSegF[0]}, {x: mid, y: cutSegF[1]}], borderColor: '#333', borderWidth: 0.8, borderDash: [2.5, 2], pointRadius: 0}
  ], {layout: lay(0, 6.5, 5.2, 2.8),
      scales: {x: {type: 'linear', min: 0.5, max: nP + 0.5, display: false}, y: yAxF(-0.34, 8.29, [0, 2, 4, 6, 8], 20.7)}});
  // survival status
  const osAll = osLow.concat(osHigh), stAll = (stLow + stHigh).split('');
  const pts = osAll.map((v, i) => ({x: i + 1, y: v}));
  mk(20, 680, 190, 72, 'scatter', [
    {data: pts.filter((p, i) => stAll[i] === 'A'), pointRadius: 1.2, backgroundColor: '#10A9E5', borderWidth: 0},
    {data: pts.filter((p, i) => stAll[i] === 'D'), pointRadius: 1.2, backgroundColor: RED, borderWidth: 0},
    {type: 'line', data: [{x: mid, y: -4.4}, {x: mid, y: 92.4}], borderColor: '#333', borderWidth: 0.8, borderDash: [2.5, 2], pointRadius: 0}
  ], {layout: lay(0, 6.5, 5.4, 3.4),
      scales: {x: {type: 'linear', min: 0.5, max: nP + 0.5, display: false}, y: yAxF(-4.4, 92.4, [0, 25, 50, 75], 20.7)}});
  // heatmap
  const hmRows = [hmRMI2, hmIRF7, hmS100A4, hmTIMP1, hmTREM1, hmMXRA8].map(s => s.split('').map(ch => (Number(ch) - 4.5) / 3));
  const hmColor = v => {
    const t = Math.max(-1, Math.min(1, v / 1.5)), a = Math.abs(t);
    const c = t < 0 ? [28, 166, 230] : [232, 34, 40];
    return `rgb(${Math.round(255 + (c[0] - 255) * a)},${Math.round(255 + (c[1] - 255) * a)},${Math.round(255 + (c[2] - 255) * a)})`;
  };
  const patLabels = Array.from({length: nP}, (_, i) => i + 1);
  const hmDs = hmRows.slice().reverse().map(vals => ({data: patLabels.map(() => 1), backgroundColor: patLabels.map((p, i) => hmColor(vals[i] ?? 0)),
    borderWidth: 0, barPercentage: 1, categoryPercentage: 1}));
  hmDs.push({data: patLabels.map(() => 1), backgroundColor: patLabels.map(p => p <= nL ? '#1AAFE6' : '#E8242A'), borderWidth: 0, barPercentage: 1, categoryPercentage: 1});
  mk(41, 761, 162, 62, 'bar', hmDs, {
    layout: lay(0, 0, 0, 0),
    scales: {x: {stacked: true, display: false}, y: {stacked: true, min: 0, max: 7, display: false}}
  }, [], patLabels);
  hmGenes.forEach((g, k) => T(39.5, 774.3 + 8.86 * k, g, 7.5, {a: 'r'}));
  // texts & legends
  T(21, 635.5, 'Risk score', 8, {rot: true});
  T(21, 708.7, 'OS(months)', 8, {rot: true});
  T(58.3, 647.3, 'Cutoff: ' + riskCutoff, 7.9);
  T(210.7, 632.7, 'Risk score', 6.6);
  R(214, 640.7, 2.2, 2.2, RED); T(223.5, 641.9, `High${MINUS}risk`, 4.8);
  R(214, 648.3, 2.2, 2.2, '#10A9E5'); T(223.5, 649.5, `Low${MINUS}risk`, 4.8);
  T(213.3, 708.3, 'Status', 6.6);
  R(216.2, 715.6, 2.2, 2.2, '#10A9E5'); T(222.7, 716.8, 'Alive', 4.8);
  R(216.2, 723.2, 2.2, 2.2, RED); T(222.7, 724.4, 'Dead', 4.8);
  T(211.7, 768.3, 'Genes', 6.4, {color: '#222'});
  T(211.7, 774.3, 'expression', 6.4, {color: '#222'});
  const gb = document.createElement('div');
  Object.assign(gb.style, {position: 'absolute', left: '211.7px', top: '778px', width: '8.3px', height: '41px',
    background: 'linear-gradient(to bottom, #E8222A 0%, #FFFFFF 50%, #1CA6E6 100%)'});
  root.appendChild(gb);
  hmLegend.forEach((l, k) => T(221.7, 779.3 + 6.4 * k, l, 5.7, {color: '#222'}));
}

// ================= PANEL G =================
{
  const sAt = (Ts, Ss, t) => { let s = Ss[0]; Ts.forEach((tt, i) => { if (tt <= t) s = Ss[i]; }); return s; };
  const med = (Ts, Ss) => Ts[Ss.findIndex(s => s <= 0.5)];
  const mH = med(kmHighT, kmHighS), mL = med(kmLowT, kmLowS);
  const dash = {type: 'line', borderColor: '#000', borderWidth: 0.8, borderDash: [2.5, 2], pointRadius: 0};
  const ds = [
    Object.assign({data: [{x: 0, y: 0.5}, {x: mL, y: 0.5}]}, dash),
    Object.assign({data: [{x: mH, y: 0}, {x: mH, y: 0.5}]}, dash),
    Object.assign({data: [{x: mL, y: 0}, {x: mL, y: 0.5}]}, dash),
    {type: 'line', data: kmHighT.map((t, i) => ({x: t, y: kmHighS[i]})), stepped: true, borderColor: RED, borderWidth: 1.3, pointRadius: 0},
    {type: 'line', data: kmLowT.map((t, i) => ({x: t, y: kmLowS[i]})), stepped: true, borderColor: BLUE, borderWidth: 1.3, pointRadius: 0},
    {type: 'scatter', data: censHighT.map(t => ({x: t, y: sAt(kmHighT, kmHighS, t)})), pointStyle: 'cross', pointRadius: 2.2, borderColor: RED, borderWidth: 0.9},
    {type: 'scatter', data: censLowT.map(t => ({x: t, y: sAt(kmLowT, kmLowS, t)})), pointStyle: 'cross', pointRadius: 2.2, borderColor: BLUE, borderWidth: 0.9}
  ];
  mk(270, 650, 218, 125, 'scatter', ds, {
    layout: lay(0, 3.7, 4.5, 0),
    scales: {
      x: ax({min: -4.37, max: 83, ticks: riskTimes, pos: 'bottom', size: 15.5, fs: 6.6, pad: 0.7, tl: 2.5, color: '#4D4D4D', tickColor: '#333', border: true, bw: 0.9}),
      y: ax({min: -0.055, max: 1.05, ticks: [0, 0.25, 0.5, 0.75, 1], pos: 'left', size: 34.3, fs: 6.3, pad: 0.6, tl: 2, color: '#4D4D4D', tickColor: '#333', border: true, bw: 0.9, cb: v => v.toFixed(2)})
    }
  });
  // risk table
  const yCat = {type: 'category', labels: ['Risk=high', 'Risk=low'], offset: true, position: 'left',
    afterFit: s => { s.width = 34.3; },
    ticks: {font: {size: 6}, autoSkip: false, color: c => c.index === 0 ? RED : BLUE, padding: 0.5},
    grid: {display: true, drawOnChartArea: false, tickLength: 2.5, tickColor: '#333'},
    border: {display: true, color: '#000', width: 0.9}};
  mk(270, 790, 218, 46, 'scatter', [{data: []}], {
    layout: lay(0, 3.7, 4, 0),
    scales: {
      x: ax({min: -4.37, max: 83, ticks: riskTimes, pos: 'bottom', size: 24, fs: 6.6, pad: 1.5, tl: 2.5, color: '#4D4D4D', tickColor: '#333', border: true, bw: 0.9}),
      y: yCat
    },
    plugins: {numP: {rows: [nRiskHigh, nRiskLow], xs: riskTimes, fs: 6.3}}
  }, [numP]);
  T(305, 632.7, 'TCGA GBM dataset', 9.2);
  T(305, 643.5, ' (Overall Survival)', 9.2);
  T(268.3, 706, 'Survival probability', 9.3, {rot: true});
  T(397.5, 773.3, 'Time (Months)', 8, {a: 'c'});
  T(367.3, 672.3, 'Level', 6.7);
  R(385, 671.7, 8.3, 1.3, RED); T(395, 672.3, 'Risk=high', 7.2);
  R(431.7, 671.7, 8.3, 1.3, BLUE); T(441.7, 672.3, 'Risk=low', 7.2);
  T(316.7, 726, `Log${MINUS}rank`, 8.3, {color: '#222'});
  T(316.7, 735.7, 'p = 0.00012', 8.3, {color: '#222'});
  T(268.3, 801, 'Level', 9, {rot: true});
  T(397.5, 830, 'Time (Months)', 8, {a: 'c'});
}

// ================= PANEL H =================
{
  const cols = ['#1DA8E4', '#E52329', '#F6B318', '#E3D11C', '#FFB6C1'];
  const rx = [roc1X, roc2X, roc3X, roc4X, roc5X], ry = [roc1Y, roc2Y, roc3Y, roc4Y, roc5Y];
  const ds = [{type: 'line', data: [{x: 0, y: 0}, {x: 1, y: 1}], borderColor: '#555', borderWidth: 0.8, pointRadius: 0}];
  for (let k = 4; k >= 0; k--) ds.push({type: 'line', data: rx[k].map((x, i) => ({x, y: ry[k][i]})), stepped: 'after', borderColor: cols[k], borderWidth: 1.5, pointRadius: 0});
  mk(500, 637, 238, 201, 'scatter', ds, {
    layout: lay(0, 3, 5, 0),
    scales: {
      x: ax({min: -0.046, max: 1.046, ticks: unitTicks, pos: 'bottom', size: 24, fs: 8.4, pad: 5.3, tl: 4, cb: v => v.toFixed(1)}),
      y: ax({min: -0.036, max: 1.046, ticks: unitTicks, pos: 'left', size: 39, labels: false, tl: 4})
    },
    plugins: {rotY: {fmt: v => v.toFixed(1), off: 10.7, fs: 8.4}, boxP: {on: true}}
  }, [rotY, boxP]);
  T(640, 633, 'TCGA GBM dataset ROC curve', 9.4, {a: 'c'});
  T(642.5, 842, 'False positive rate', 9.2, {a: 'c'});
  T(511.7, 721.7, 'True positive rate', 9.1, {rot: true});
  rocLabels.forEach((l, k) => {
    const y = 772.7 + k * 8.2;
    R(649, y - 0.8, 13, 1.6, cols[k]);
    T(664, y, l, 7.4);
  });
}
</script></body></html>
